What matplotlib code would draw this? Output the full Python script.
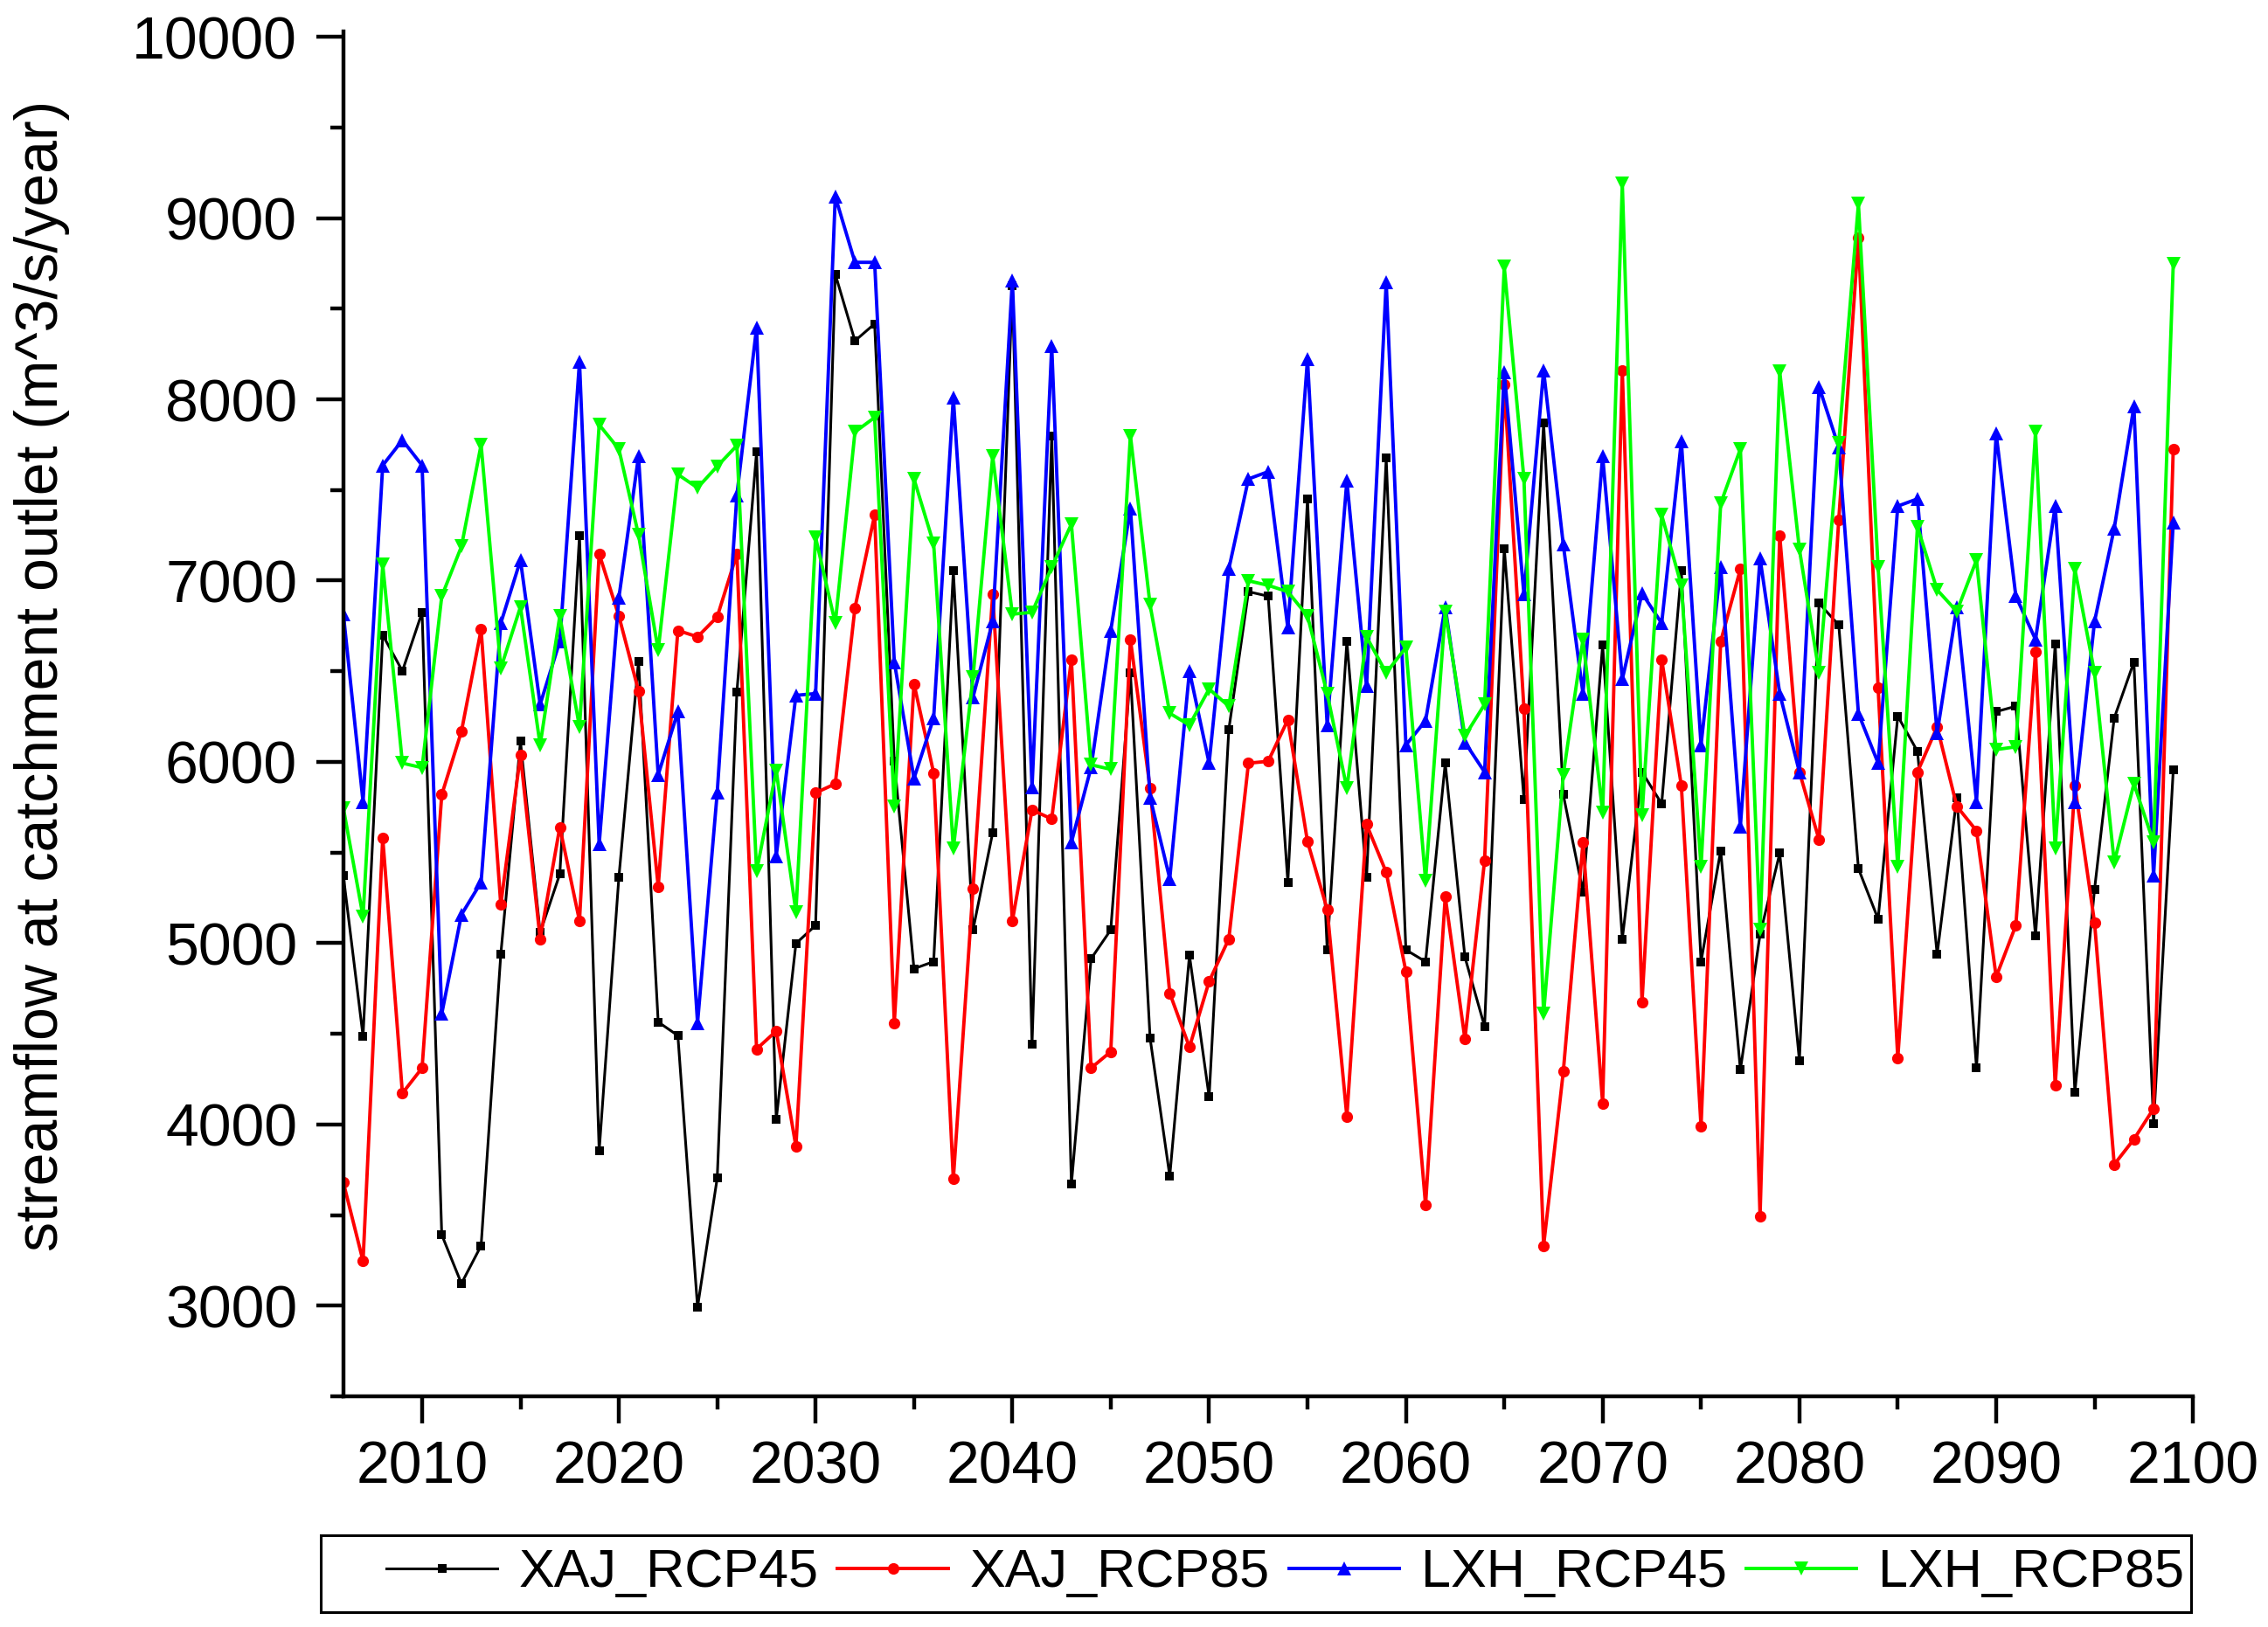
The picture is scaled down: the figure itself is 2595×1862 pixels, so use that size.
import matplotlib
matplotlib.use("Agg")
import matplotlib.pyplot as plt
from matplotlib.ticker import MultipleLocator
from matplotlib.patches import Rectangle

plt.rcParams['font.family'] = ['Liberation Sans', 'DejaVu Sans']

years = list(range(2006, 2100))

xaj_rcp45 = [5371, 4486, 6700, 6501, 6825, 3391, 3122, 3331, 4938, 6113,
             5058, 5381, 7248, 3853, 5361, 6556, 4565, 4490, 2992, 3704,
             6387, 7711, 4028, 4998, 5098, 8691, 8323, 8417, 6003, 4859,
             4898, 7054, 5073, 5610, 8626, 4441, 7800, 3669, 4914, 5073,
             6491, 4476, 3714, 4933, 4152, 6178, 6939, 6914, 5336, 7452,
             4963, 6665, 5361, 7676, 4963, 4898, 5993, 4923, 4540, 7178,
             5794, 7870, 5819, 5282, 6646, 5023, 5944, 5769, 7054, 4898,
             5510, 4301, 5048, 5496, 4351, 6875, 6755, 5411, 5133, 6252,
             6058, 4938, 5804, 4311, 6277, 6307, 5038, 6650, 4177, 5297,
             6242, 6551, 4003, 5954]

xaj_rcp85 = [3679, 3246, 5580, 4172, 4311, 5819, 6168, 6730, 5212, 6038,
             5023, 5640, 5123, 7148, 6805, 6392, 5312, 6725, 6690, 6800,
             7148, 4416, 4515, 3878, 5829, 5879, 6850, 7362, 4560, 6431,
             5939, 3699, 5302, 6924, 5123, 5735, 5685, 6566, 4311, 4401,
             6675, 5854, 4724, 4426, 4789, 5023, 5993, 6003, 6232, 5560,
             5187, 4043, 5655, 5391, 4844, 3555, 5257, 4471, 5456, 8084,
             6292, 3331, 4291, 5555, 4117, 8159, 4675, 6566, 5869, 3988,
             6665, 7063, 3495, 7248, 5944, 5570, 7337, 8890, 6407, 4366,
             5944, 6193, 5755, 5620, 4814, 5098, 6606, 4217, 5869, 5113,
             3779, 3918, 4087, 7726]

lxh_rcp45 = [6815, 5780, 7636, 7775, 7636, 4610, 5157, 5336, 6765, 7113,
             6317, 6665, 8208, 5546, 6904, 7686, 5929, 6277, 4560, 5830,
             7472, 8397, 5481, 6367, 6377, 9119, 8756, 8756, 6551, 5909,
             6242, 8009, 6357, 6775, 8656, 5859, 8293, 5556, 5969, 6725,
             7397, 5804, 5356, 6501, 5993, 7064, 7561, 7601, 6740, 8223,
             6203, 7551, 6417, 8646, 6093, 6227, 6855, 6108, 5944, 8149,
             6924, 8159, 7198, 6377, 7686, 6456, 6930, 6765, 7770, 6093,
             7074, 5645, 7123, 6377, 5944, 8069, 7736, 6267, 5993, 7411,
             7451, 6158, 6855, 5780, 7810, 6914, 6675, 7411, 5780, 6775,
             7288, 7960, 5371, 7322]

lxh_rcp85 = [5745, 5147, 7088, 5993, 5968, 6914, 7188, 7750, 6516, 6855,
             6093, 6805, 6192, 7860, 7726, 7253, 6616, 7586, 7512, 7631,
             7745, 5396, 5953, 5172, 7238, 6765, 7820, 7900, 5755, 7561,
             7203, 5521, 6466, 7686, 6815, 6825, 7074, 7312, 5984, 5959,
             7800, 6865, 6268, 6203, 6402, 6307, 6999, 6974, 6939, 6805,
             6377, 5854, 6690, 6491, 6631, 5346, 6830, 6143, 6317, 8731,
             7561, 4610, 5929, 6675, 5720, 9189, 5705, 7362, 6974, 5421,
             7426, 7726, 5073, 8154, 7173, 6491, 7760, 9079, 7074, 5421,
             7297, 6949, 6830, 7113, 6068, 6083, 7820, 5521, 7064, 6491,
             5446, 5879, 5556, 8746]

series_names = ['XAJ_RCP45', 'XAJ_RCP85', 'LXH_RCP45', 'LXH_RCP85']
series_colors = ['#000000', '#FF0000', '#0000FF', '#00FF00']
series_markers = ['s', 'o', '^', 'v']
series_msize = [7.5, 9.5, 11, 11]
series_lw = [2.2, 2.8, 2.8, 2.8]
series_data = [xaj_rcp45, xaj_rcp85, lxh_rcp45, lxh_rcp85]

fig = plt.figure(figsize=(25.95, 18.62), dpi=100)
ax = fig.add_axes([0.1514, 0.1418, 0.8155, 0.8389])

for name, col, mk, ms, lw, vals in zip(series_names, series_colors, series_markers,
                                        series_msize, series_lw, series_data):
    ax.plot(years, vals, color=col, marker=mk, markersize=ms, linewidth=lw,
            markeredgewidth=0, label=name)

ax.set_xlim(2006, 2100)
ax.set_ylim(2500, 10030)
ax.xaxis.set_major_locator(MultipleLocator(10))
ax.xaxis.set_minor_locator(MultipleLocator(5))
ax.yaxis.set_major_locator(MultipleLocator(1000))
ax.yaxis.set_minor_locator(MultipleLocator(500))
ax.set_yticks(range(3000, 10001, 1000))

for s in ['top', 'right']:
    ax.spines[s].set_visible(False)
for s in ['left', 'bottom']:
    ax.spines[s].set_linewidth(3.2)

ax.tick_params(which='major', direction='out', length=22, width=3.2, labelsize=49)
ax.tick_params(which='minor', direction='out', length=11, width=3.2)
ax.tick_params(axis='y', which='major', pad=16)
ax.tick_params(axis='x', which='major', pad=14)

ax.set_ylabel('streamflow at catchment outlet (m^3/s/year)', fontsize=49)
ax.yaxis.set_label_coords(-0.148, 0.528)

leg = fig.legend(loc='center', bbox_to_anchor=(0.5668, 0.0328), ncol=4,
                 fontsize=44, frameon=False,
                 handlelength=2.07, columnspacing=0.35, handletextpad=0.41,
                 borderpad=0.2)

fig.patches.append(Rectangle((367 / 2595, 1 - 1845 / 1862), (2507 - 367) / 2595,
                             88 / 1862, transform=fig.transFigure, fill=False,
                             edgecolor='black', linewidth=2.2))

fig.savefig('out.png', dpi=100)
